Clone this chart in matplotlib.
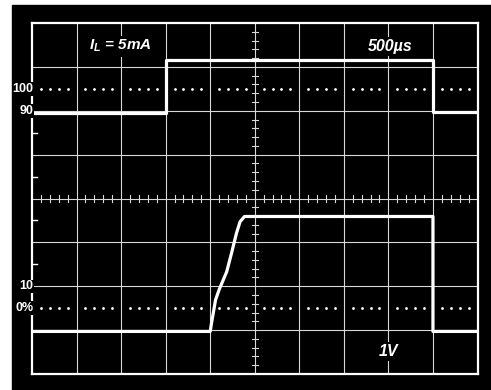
import numpy as np
import matplotlib.pyplot as plt
from matplotlib.patches import Rectangle

plt.rcParams['font.family'] = ['Liberation Sans', 'DejaVu Sans']
plt.rcParams['mathtext.fontset'] = 'custom'
plt.rcParams['mathtext.it'] = 'Liberation Sans:italic:bold'
plt.rcParams['mathtext.rm'] = 'Liberation Sans:italic:bold'

# Trace data in screen divisions (x: 0..10, y: -4..4)
top_x = [0, 3.01, 3.01, 9.0, 9.0, 10]
top_y = [1.95, 1.95, 3.15, 3.15, 1.97, 1.97]

bot_x = [0, 4.0, 4.03, 4.12, 4.20, 4.37, 4.48, 4.59, 4.67, 4.77, 9.0, 9.0, 10]
bot_y = [-3.03, -3.03, -2.84, -2.31, -2.08, -1.67, -1.24, -0.79, -0.53, -0.41, -0.41, -3.03, -3.03]

level_labels = ['100', '90', '10', '0%']
level_values = [2.5, 2.0, -2.0, -2.5]
dotted_levels = [2.5, -2.5]

current_label = r'$I_L$ = 5mA'
time_label = '500µs'
volt_label = '1V'

fig = plt.figure(figsize=(4.91, 3.90), dpi=100)
fig.patch.set_facecolor('white')
# black scope background
fig.patches.append(Rectangle((12 / 491, 0), 479 / 491, 385 / 390,
                             transform=fig.transFigure, color='black', zorder=-10))

ax = fig.add_axes([32 / 491, 16 / 390, 445.5 / 491, 351 / 390])
ax.set_facecolor('black')
ax.set_xlim(0, 10)
ax.set_ylim(-4, 4)
ax.set_xticks([])
ax.set_yticks([])
for s in ax.spines.values():
    s.set_color('white')
    s.set_linewidth(1.6)

# Graticule
for x in range(1, 10):
    ax.axvline(x, color='#d8d8d8', lw=0.8, zorder=1)
for y in range(-3, 4):
    ax.axhline(y, color='#d8d8d8', lw=0.8, zorder=1)

# Minor ticks on the centre lines
minor = [v for v in np.arange(0, 10.01, 0.2) if abs(v - round(v)) > 0.01]
for x in minor:
    ax.plot([x, x], [-0.07, 0.07], color='#d8d8d8', lw=0.8, zorder=1)
minor_y = [v for v in np.arange(-4, 4.01, 0.2) if abs(v - round(v)) > 0.01]
for y in minor_y:
    ax.plot([4.93, 5.07], [y, y], color='#d8d8d8', lw=0.8, zorder=1)

# Ticks on the left edge
for y in [1.5, 0.5, -0.5, -1.5]:
    ax.plot([0, 0.11], [y, y], color='white', lw=1.0, zorder=1)

# Dotted 0% / 100% levels
dots_x = [k + f for k in range(10) for f in (0.2, 0.4, 0.6, 0.8)]
for y in dotted_levels:
    ax.plot(dots_x, [y] * len(dots_x), 'o', color='white', ms=2.0, mew=0, zorder=2)

# Traces
ax.plot(top_x, top_y, color='white', lw=2.3, zorder=3, solid_joinstyle='round')
ax.plot(bot_x, bot_y, color='white', lw=2.3, zorder=3, solid_joinstyle='round')

# Labels
box = dict(facecolor='black', edgecolor='none', pad=1.5)
ax.text(1.98, 3.47, current_label, color='white', fontsize=11, fontweight='bold',
        fontstyle='italic', ha='center', va='center', bbox=box, zorder=4)
ax.text(8.04, 3.47, time_label, color='white', fontsize=11.5, fontweight='bold',
        fontstyle='italic', ha='center', va='center', bbox=box, zorder=4)
ax.text(8.01, -3.48, volt_label, color='white', fontsize=11.5, fontweight='bold',
        fontstyle='italic', ha='center', va='center', bbox=box, zorder=4)

for lab, y in zip(level_labels, level_values):
    ax.text(0.03, y, lab, color='white', fontsize=9, fontweight='bold',
            ha='right', va='center',
            bbox=dict(facecolor='black', edgecolor='none', pad=0.5), zorder=4)

plt.savefig('out.png', dpi=100)
